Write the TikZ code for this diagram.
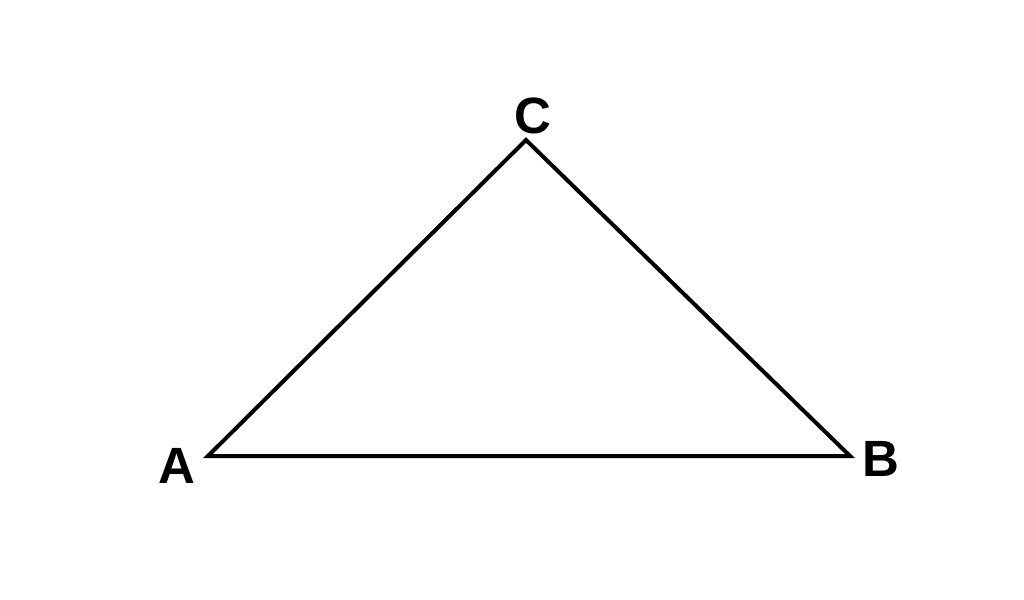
\documentclass[tikz,border=0pt]{standalone}
\usepackage{fontspec}
\setmainfont{Liberation Sans}
\usepackage{tikz}
\usetikzlibrary{positioning}
\tikzset{
  sommet/.style = {inner sep=0pt, font=\fontsize{51}{51}\selectfont\bfseries},% lettre du sommet
  cote/.style = {line width=4pt, line join=miter, black}% cote du triangle
}

\begin{document}
\begin{tikzpicture}[x=1pt,y=-1pt]
\useasboundingbox (0,0) rectangle (1024,599);
% sommets
\coordinate (A) at (208,456);
\coordinate (B) at (850,456);
\coordinate (C) at (526,140);
% lettres
\node [sommet] (labA) at (177,466) {A};
\node [sommet] (labB) at (881,459) {B};
\node [sommet] (labC) at (533,116) {C};
% triangle
\draw [cote] (A) -- (B) -- (C) -- cycle;
\end{tikzpicture}
\end{document}
